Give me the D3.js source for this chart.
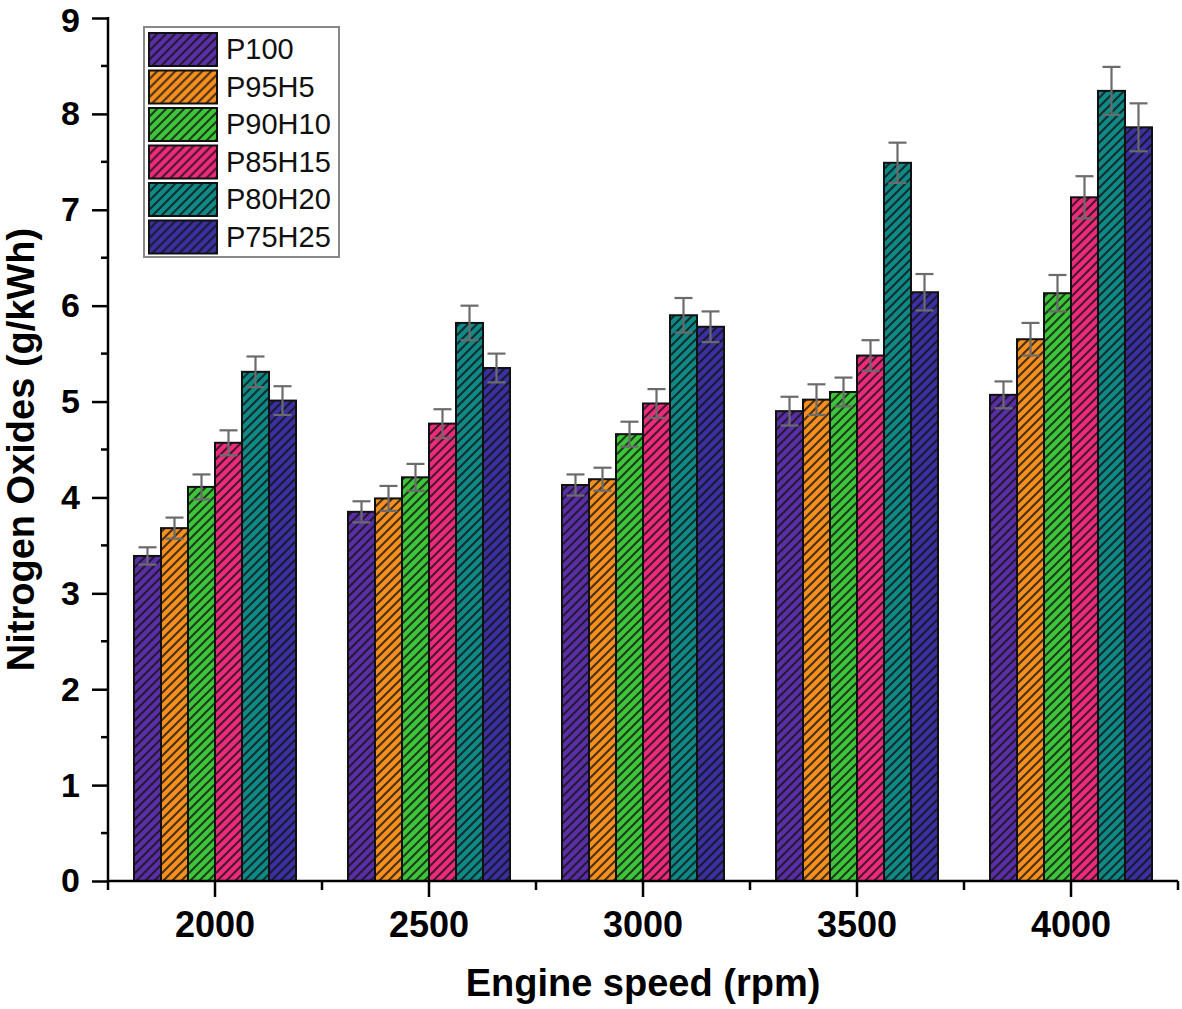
<!DOCTYPE html>
<html>
<head>
<meta charset="utf-8">
<script src="https://cdn.jsdelivr.net/npm/d3@7"></script>
<style>
  html, body { margin: 0; padding: 0; background: #fff; }
  svg { display: block; font-family: "Liberation Sans", Arial, sans-serif; }
</style>
</head>
<body>
<svg id="chart" width="1182" height="1009"></svg>
<script>
const categories = ["2000", "2500", "3000", "3500", "4000"];
const seriesNames = ["P100", "P95H5", "P90H10", "P85H15", "P80H20", "P75H25"];
const seriesColors = ["#5a2fa6", "#f7901e", "#3ec63a", "#ee2a7c", "#0f8a87", "#3b30a0"];
const P100   = [3.39, 3.85, 4.13, 4.90, 5.07];
const P95H5  = [3.68, 3.99, 4.19, 5.02, 5.65];
const P90H10 = [4.11, 4.21, 4.66, 5.10, 6.13];
const P85H15 = [4.57, 4.77, 4.98, 5.48, 7.13];
const P80H20 = [5.31, 5.82, 5.90, 7.49, 8.24];
const P75H25 = [5.01, 5.35, 5.78, 6.14, 7.86];
const err_P100   = [0.09, 0.11, 0.11, 0.15, 0.14];
const err_P95H5  = [0.11, 0.13, 0.12, 0.16, 0.17];
const err_P90H10 = [0.13, 0.14, 0.13, 0.15, 0.19];
const err_P85H15 = [0.13, 0.15, 0.15, 0.16, 0.22];
const err_P80H20 = [0.16, 0.18, 0.18, 0.21, 0.25];
const err_P75H25 = [0.15, 0.15, 0.16, 0.19, 0.25];
const yTicks = [0, 1, 2, 3, 4, 5, 6, 7, 8, 9];

const seriesValues = [P100, P95H5, P90H10, P85H15, P80H20, P75H25];
const seriesErrors = [err_P100, err_P95H5, err_P90H10, err_P85H15, err_P80H20, err_P75H25];

const svg = d3.select("#chart");
const mLeft = 108, mRight = 1178, mTop = 18, mBottom = 881;

const x = d3.scaleBand().domain(categories).range([mLeft, mRight]).padding(0);
const xs = d3.scaleBand().domain(seriesNames).range([-81, 81]).padding(0);
const y = d3.scaleLinear().domain([0, 9]).range([mBottom, mTop]);

// hatch patterns
const defs = svg.append("defs");
seriesNames.forEach((s, i) => {
  const p = defs.append("pattern")
    .attr("id", "hatch" + i)
    .attr("patternUnits", "userSpaceOnUse")
    .attr("width", 9).attr("height", 9);
  p.append("rect").attr("width", 9).attr("height", 9).attr("fill", seriesColors[i]);
  p.append("path")
    .attr("d", "M0,9 L9,0 M-3,3 L3,-3 M6,12 L12,6")
    .attr("stroke", "#111").attr("stroke-opacity", 0.75).attr("stroke-width", 2.2);
});

// bars
const data = [];
categories.forEach((c, ci) => {
  seriesNames.forEach((s, si) => {
    data.push({ c, s, si, v: seriesValues[si][ci], e: seriesErrors[si][ci] });
  });
});

const g = svg.append("g");
g.selectAll("rect.bar").data(data).enter().append("rect")
  .attr("class", "bar")
  .attr("x", d => x(d.c) + x.bandwidth() / 2 + xs(d.s))
  .attr("y", d => y(d.v))
  .attr("width", xs.bandwidth())
  .attr("height", d => y(0) - y(d.v))
  .attr("fill", d => "url(#hatch" + d.si + ")")
  .attr("stroke", "#111").attr("stroke-width", 2);

// error bars
const eb = g.selectAll("g.err").data(data).enter().append("g").attr("class", "err")
  .attr("stroke", "#6b6b6b").attr("stroke-width", 2.2);
const cx = d => x(d.c) + x.bandwidth() / 2 + xs(d.s) + xs.bandwidth() / 2;
eb.append("line").attr("x1", cx).attr("x2", cx)
  .attr("y1", d => y(d.v - d.e)).attr("y2", d => y(d.v + d.e));
eb.append("line").attr("x1", d => cx(d) - 9).attr("x2", d => cx(d) + 9)
  .attr("y1", d => y(d.v + d.e)).attr("y2", d => y(d.v + d.e));
eb.append("line").attr("x1", d => cx(d) - 9).attr("x2", d => cx(d) + 9)
  .attr("y1", d => y(d.v - d.e)).attr("y2", d => y(d.v - d.e));

// y axis
const yAxis = svg.append("g").attr("transform", `translate(${mLeft},0)`)
  .call(d3.axisLeft(y).tickValues(yTicks).tickSize(16).tickPadding(12).tickFormat(d3.format("d")));
yAxis.select(".domain").attr("stroke", "#000").attr("stroke-width", 2.5).attr("d", `M0,${mBottom}V${mTop - 1}`);
yAxis.selectAll(".tick line").attr("stroke", "#000").attr("stroke-width", 2.5);
yAxis.selectAll(".tick text").attr("font-size", 34).attr("font-weight", "bold")
  .attr("fill", "#000").attr("font-family", "Liberation Sans, Arial, sans-serif")
  .attr("y", d => d === 9 ? 3 : 0);
// minor y ticks
const yMinor = d3.range(0.5, 9, 1);
svg.append("g").selectAll("line").data(yMinor).enter().append("line")
  .attr("x1", mLeft - 7).attr("x2", mLeft).attr("y1", d => y(d)).attr("y2", d => y(d))
  .attr("stroke", "#000").attr("stroke-width", 2.5);

// x axis
const xAxis = svg.append("g").attr("transform", `translate(0,${mBottom})`)
  .call(d3.axisBottom(x).tickSize(16).tickPadding(14));
xAxis.select(".domain").attr("stroke", "#000").attr("stroke-width", 2.5).attr("d", `M${mLeft},0H${mRight}`);
xAxis.selectAll(".tick line").attr("stroke", "#000").attr("stroke-width", 2.5);
xAxis.selectAll(".tick text").attr("font-size", 36).attr("font-weight", "bold")
  .attr("fill", "#000").attr("font-family", "Liberation Sans, Arial, sans-serif");
// minor x ticks at band boundaries
const xBounds = categories.map(c => x(c)).concat([mRight]);
svg.append("g").selectAll("line").data(xBounds).enter().append("line")
  .attr("x1", d => d).attr("x2", d => d).attr("y1", mBottom).attr("y2", mBottom + 9)
  .attr("stroke", "#000").attr("stroke-width", 2.5);

// axis titles
svg.append("text")
  .attr("x", (mLeft + mRight) / 2).attr("y", 996)
  .attr("text-anchor", "middle").attr("font-size", 38).attr("font-weight", "bold")
  .text("Engine speed (rpm)");
svg.append("text")
  .attr("transform", `translate(34,${(232 + 667) / 2}) rotate(-90)`)
  .attr("text-anchor", "middle").attr("font-size", 38).attr("font-weight", "bold")
  .text("Nitrogen Oxides (g/kWh)");

// legend
const lg = svg.append("g");
lg.append("rect").attr("x", 144).attr("y", 27).attr("width", 195).attr("height", 230)
  .attr("fill", "#fff").attr("stroke", "#888").attr("stroke-width", 2);
const items = lg.selectAll("g.item").data(seriesNames).enter().append("g")
  .attr("transform", (d, i) => `translate(149,${33 + i * 37.5})`);
items.append("rect").attr("width", 68).attr("height", 33)
  .attr("fill", (d, i) => "url(#hatch" + i + ")")
  .attr("stroke", "#111").attr("stroke-width", 2);
items.append("text").attr("x", 77).attr("y", 26)
  .attr("font-size", 29).attr("fill", "#111").text(d => d);
</script>
</body>
</html>
